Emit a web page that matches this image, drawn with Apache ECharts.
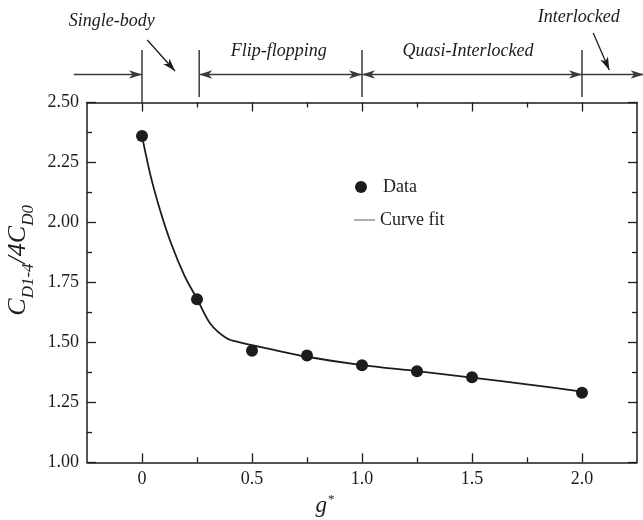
<!DOCTYPE html>
<html>
<head>
<meta charset="utf-8">
<script src="https://cdn.jsdelivr.net/npm/echarts@6/dist/echarts.min.js"></script>
<style>
  html, body { margin: 0; padding: 0; background: #ffffff; }
  #chart { width: 643px; height: 520px; }
</style>
</head>
<body>
<div id="chart"></div>
<script>
// Measured drag ratio against normalised gap g*
const gapValues = [0, 0.25, 0.5, 0.75, 1.0, 1.25, 1.5, 2.0];
const dragRatio = [2.36, 1.68, 1.465, 1.445, 1.405, 1.38, 1.355, 1.29];

// Curve fit, sampled along g*
const fitGap   = [0, 0.04, 0.082, 0.132, 0.195, 0.25, 0.309, 0.385, 0.445, 0.567, 0.75, 1.0, 1.25, 1.5, 1.75, 2.0];
const fitRatio = [2.36, 2.191, 2.052, 1.913, 1.774, 1.682, 1.58, 1.517, 1.5, 1.475, 1.44, 1.405, 1.38, 1.353, 1.325, 1.295];

// Flow regimes and their boundaries in g*
const regimeBounds = [0, 0.26, 1.0, 2.0];
const regimeNames = ['Single-body', 'Flip-flopping', 'Quasi-Interlocked', 'Interlocked'];

// Axis ticks
const majorTicksX = [0, 0.5, 1.0, 1.5, 2.0];
const minorTicksX = [0.25, 0.75, 1.25, 1.75];
const tickLabelsX = ['0', '0.5', '1.0', '1.5', '2.0'];

const INK = '#1f1b1c';
const SERIF = '"Liberation Serif", "DejaVu Serif", serif';

const chart = echarts.init(document.getElementById('chart'), null, { renderer: 'canvas' });

const GRID = { left: 87, right: 6, top: 102.5, bottom: 57.7 };

// annotation strip above the plot, y measured downward in px-like units
const strip = {
  lineTop: 50, lineBottom: 97, arrowY: 74.5,
  leadIn: -0.31, leadOut: 2.28,
  labels: [
    { x: -0.137, y: 21 },
    { x: 0.622, y: 51 },
    { x: 1.482, y: 51 },
    { x: 1.985, y: 17 }
  ],
  pointers: [
    { from: [0.024, 40], to: [0.15, 71] },
    { from: [2.051, 33], to: [2.124, 70] }
  ]
};

function headPoints(tip, from, len, half, notch) {
  const dx = tip[0] - from[0], dy = tip[1] - from[1];
  const d = Math.hypot(dx, dy) || 1;
  const ux = dx / d, uy = dy / d, px = -uy, py = ux;
  return [
    [tip[0], tip[1]],
    [tip[0] - ux * len + px * half, tip[1] - uy * len + py * half],
    [tip[0] - ux * (len - notch), tip[1] - uy * (len - notch)],
    [tip[0] - ux * len - px * half, tip[1] - uy * len - py * half]
  ];
}

function arrowGroup(p1, p2, headStart, headEnd, color, width) {
  const children = [{
    type: 'line',
    shape: { x1: p1[0], y1: p1[1], x2: p2[0], y2: p2[1] },
    style: { stroke: color, lineWidth: width }
  }];
  if (headEnd) children.push({ type: 'polygon', shape: { points: headPoints(p2, p1, 13, 4.2, 3.5) }, style: { fill: color } });
  if (headStart) children.push({ type: 'polygon', shape: { points: headPoints(p1, p2, 13, 4.2, 3.5) }, style: { fill: color } });
  return { type: 'group', children };
}

// horizontal regime arrows: [x1, x2, headAtStart, headAtEnd]
const spanArrows = [
  [strip.leadIn, regimeBounds[0], 0, 1],
  [regimeBounds[1], regimeBounds[2], 1, 1],
  [regimeBounds[2], regimeBounds[3], 1, 1],
  [regimeBounds[3], strip.leadOut, 0, 1]
];

const option = {
  animation: false,
  backgroundColor: '#ffffff',
  grid: [
    { left: GRID.left, right: GRID.right, top: GRID.top, bottom: GRID.bottom, containLabel: false, outerBoundsMode: 'none' },
    { left: GRID.left, right: GRID.right, top: 0, height: GRID.top, containLabel: false, outerBoundsMode: 'none' }
  ],
  legend: [
    {
      data: ['Data'], left: 355, top: 178, padding: 0, orient: 'vertical',
      icon: 'circle', itemWidth: 12, itemHeight: 12,
      textStyle: { fontFamily: SERIF, fontSize: 18, color: INK, padding: [0, 0, 0, 11] },
      selectedMode: false
    },
    {
      data: ['Curve fit'], left: 354, top: 211, padding: 0, orient: 'vertical',
      icon: 'rect', itemWidth: 21, itemHeight: 1,
      itemStyle: { color: '#5a5a5a' },
      textStyle: { fontFamily: SERIF, fontSize: 18, color: INK },
      selectedMode: false
    }
  ],
  xAxis: [
    {
      gridIndex: 0, type: 'value', min: -0.25, max: 2.25, position: 'bottom',
      axisLine: { show: true, onZero: false, lineStyle: { color: INK, width: 1.5 } },
      axisTick: { show: true, inside: true, length: 9, customValues: majorTicksX, lineStyle: { color: INK, width: 1.3 } },
      axisLabel: {
        customValues: majorTicksX,
        formatter: v => tickLabelsX[majorTicksX.indexOf(v)] ?? '',
        fontFamily: SERIF, fontSize: 18, color: INK, margin: 8
      },
      splitLine: { show: false },
      name: '{g|g}{s|*}',
      nameLocation: 'middle', nameGap: 28,
      nameTextStyle: {
        padding: [0, 74, 0, 0],
        rich: {
          g: { fontFamily: SERIF, fontStyle: 'italic', fontSize: 23, lineHeight: 23, color: INK, verticalAlign: 'bottom' },
          s: { fontFamily: SERIF, fontSize: 13, lineHeight: 13, color: INK, verticalAlign: 'bottom', padding: [0, 0, 11, 1] }
        }
      }
    },
    {
      gridIndex: 0, type: 'value', min: -0.25, max: 2.25, position: 'bottom',
      axisLine: { show: false, onZero: false },
      axisTick: { show: true, inside: true, length: 5, customValues: minorTicksX, lineStyle: { color: INK, width: 1.3 } },
      axisLabel: { show: false }, splitLine: { show: false }
    },
    {
      gridIndex: 0, type: 'value', min: -0.25, max: 2.25, position: 'top',
      axisLine: { show: true, onZero: false, lineStyle: { color: INK, width: 1.5 } },
      axisTick: { show: true, inside: true, length: 9, customValues: majorTicksX, lineStyle: { color: INK, width: 1.3 } },
      axisLabel: { show: false }, splitLine: { show: false }
    },
    {
      gridIndex: 0, type: 'value', min: -0.25, max: 2.25, position: 'top',
      axisLine: { show: false, onZero: false },
      axisTick: { show: true, inside: true, length: 5, customValues: minorTicksX, lineStyle: { color: INK, width: 1.3 } },
      axisLabel: { show: false }, splitLine: { show: false }
    },
    { gridIndex: 1, type: 'value', min: -0.25, max: 2.25, show: false }
  ],
  yAxis: [
    {
      gridIndex: 0, type: 'value', min: 1.0, max: 2.5, interval: 0.25, position: 'left',
      axisLine: { show: true, onZero: false, lineStyle: { color: INK, width: 1.5 } },
      axisTick: { show: true, inside: true, length: 9, lineStyle: { color: INK, width: 1.3 } },
      minorTick: { show: true, splitNumber: 2, length: 5, lineStyle: { color: INK, width: 1.3 } },
      axisLabel: { formatter: v => v.toFixed(2), fontFamily: SERIF, fontSize: 18, color: INK, margin: 8 },
      splitLine: { show: false },
      name: '{c|C}{s|D1-4}{c|/4C}{s|D0}',
      nameLocation: 'middle', nameRotate: 90, nameGap: 46,
      nameTextStyle: {
        padding: [0, 0, 0, 44],
        rich: {
          c: { fontFamily: SERIF, fontStyle: 'italic', fontSize: 26, lineHeight: 26, color: INK, verticalAlign: 'bottom', padding: [0, 0, 5, 0] },
          s: { fontFamily: SERIF, fontStyle: 'italic', fontSize: 17, lineHeight: 17, color: INK, verticalAlign: 'bottom' }
        }
      }
    },
    {
      gridIndex: 0, type: 'value', min: 1.0, max: 2.5, interval: 0.25, position: 'right',
      axisLine: { show: true, onZero: false, lineStyle: { color: INK, width: 1.5 } },
      axisTick: { show: true, inside: true, length: 9, lineStyle: { color: INK, width: 1.3 } },
      minorTick: { show: true, splitNumber: 2, length: 5, lineStyle: { color: INK, width: 1.3 } },
      axisLabel: { show: false }, splitLine: { show: false }
    },
    { gridIndex: 1, type: 'value', min: 0, max: GRID.top, inverse: true, show: false }
  ],
  series: [
    {
      name: 'Curve fit', type: 'line', xAxisIndex: 0, yAxisIndex: 0,
      data: fitGap.map((g, i) => [g, fitRatio[i]]),
      smooth: 0.3, symbol: 'none', showSymbol: false,
      lineStyle: { color: INK, width: 1.8 },
      itemStyle: { color: INK },
      z: 2
    },
    {
      name: 'Data', type: 'scatter', xAxisIndex: 0, yAxisIndex: 0,
      data: gapValues.map((g, i) => [g, dragRatio[i]]),
      symbol: 'circle', symbolSize: 12,
      itemStyle: { color: INK, opacity: 1 },
      z: 3
    },
    // regime boundaries
    {
      type: 'custom', xAxisIndex: 4, yAxisIndex: 2, clip: false, silent: true,
      data: regimeBounds.map((b, i) => [b, i]),
      renderItem: (params, api) => {
        const x = api.value(0);
        const bottom = api.value(1) === 0 ? GRID.top : strip.lineBottom;
        const p1 = api.coord([x, strip.lineTop]);
        const p2 = api.coord([x, bottom]);
        return {
          type: 'line',
          shape: { x1: p1[0], y1: p1[1], x2: p2[0], y2: p2[1] },
          style: { stroke: '#3d3d3d', lineWidth: 1.5 }
        };
      }
    },
    // regime span arrows
    {
      type: 'custom', xAxisIndex: 4, yAxisIndex: 2, clip: false, silent: true,
      data: spanArrows,
      renderItem: (params, api) => {
        const p1 = api.coord([api.value(0), strip.arrowY]);
        const p2 = api.coord([api.value(1), strip.arrowY]);
        return arrowGroup(p1, p2, api.value(2), api.value(3), '#3a3a3a', 1.5);
      }
    },
    // pointers to the narrow regimes
    {
      type: 'custom', xAxisIndex: 4, yAxisIndex: 2, clip: false, silent: true,
      data: strip.pointers.map(p => [p.from[0], p.from[1], p.to[0], p.to[1]]),
      renderItem: (params, api) => {
        const p1 = api.coord([api.value(0), api.value(1)]);
        const p2 = api.coord([api.value(2), api.value(3)]);
        return arrowGroup(p1, p2, 0, 1, INK, 1.3);
      }
    },
    // regime names
    {
      type: 'custom', xAxisIndex: 4, yAxisIndex: 2, clip: false, silent: true,
      data: regimeNames.map((n, i) => [strip.labels[i].x, strip.labels[i].y, i]),
      renderItem: (params, api) => {
        const p = api.coord([api.value(0), api.value(1)]);
        return {
          type: 'text',
          x: p[0], y: p[1],
          style: {
            text: regimeNames[api.value(2)],
            fontFamily: SERIF, fontStyle: 'italic', fontSize: 18,
            fill: INK, align: 'center', verticalAlign: 'middle'
          }
        };
      }
    }
  ]
};

chart.setOption(option);
</script>
</body>
</html>
